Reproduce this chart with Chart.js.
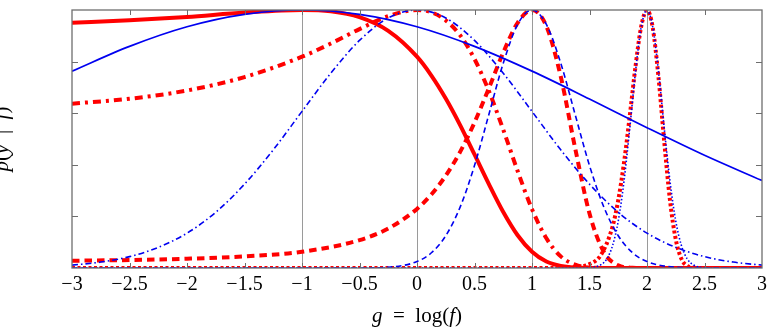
<!DOCTYPE html>
<html>
<head>
<meta charset="utf-8">
<script src="https://cdn.jsdelivr.net/npm/chart.js@4.4.0/dist/chart.umd.min.js"></script>
<style>
  html, body { margin: 0; padding: 0; background: #fff; overflow: hidden; }
  #wrap { position: absolute; left: -10px; top: 0; width: 782px; height: 332px; }
</style>
</head>
<body>
<div id="wrap"><canvas id="grafico"></canvas></div>
<script>
// ── Dados ──
// pico em g = -1
const xAzulSolida = [-3, -2.5, -2, -1.5, -1, -0.5, 0, 0.5, 1, 1.5, 2, 2.5, 3];
const yAzulSolida = [0.763, 0.859, 0.935, 0.983, 1, 0.983, 0.935, 0.859, 0.763, 0.655, 0.544, 0.437, 0.339];

const xVermSolida = [-3, -2.5, -2, -1.5, -1, -0.75, -0.5, -0.25, 0, 0.125, 0.25, 0.375, 0.5, 0.625, 0.75, 0.875, 1, 1.125, 1.25, 1.5, 1.75, 2, 3];
const yVermSolida = [0.951, 0.960, 0.973, 0.990, 1, 0.995, 0.972, 0.919, 0.819, 0.746, 0.657, 0.554, 0.440, 0.325, 0.217, 0.127, 0.063, 0.025, 0.008, 0.0002, 0, 0, 0];

// pico em g = 0
const xAzulTracoPonto = [-3, -2.75, -2.5, -2.25, -2, -1.75, -1.5, -1.25, -1, -0.75, -0.5, -0.25, 0, 0.25, 0.5, 0.75, 1, 1.25, 1.5, 1.75, 2, 2.25, 2.5, 2.75, 3];
const yAzulTracoPonto = [0.011, 0.023, 0.044, 0.080, 0.135, 0.216, 0.325, 0.458, 0.607, 0.755, 0.882, 0.969, 1, 0.969, 0.882, 0.755, 0.607, 0.458, 0.325, 0.216, 0.135, 0.080, 0.044, 0.023, 0.011];

const xVermTracoPonto = [-3, -2.5, -2, -1.5, -1, -0.75, -0.5, -0.25, 0, 0.125, 0.25, 0.375, 0.5, 0.625, 0.75, 0.875, 1, 1.125, 1.25, 1.375, 1.5, 1.75, 2, 3];
const yVermTracoPonto = [0.637, 0.656, 0.688, 0.740, 0.819, 0.870, 0.926, 0.976, 1, 0.991, 0.960, 0.902, 0.810, 0.686, 0.536, 0.376, 0.228, 0.115, 0.045, 0.013, 0.002, 0, 0, 0];

// pico em g = 1
const xAzulTracejada = [-3, -0.5, -0.25, 0, 0.125, 0.25, 0.375, 0.5, 0.625, 0.75, 0.875, 1, 1.125, 1.25, 1.375, 1.5, 1.625, 1.75, 1.875, 2, 2.25, 2.5, 3];
const yAzulTracejada = [0, 0.0002, 0.003, 0.025, 0.059, 0.125, 0.236, 0.397, 0.595, 0.794, 0.944, 1, 0.944, 0.794, 0.595, 0.397, 0.236, 0.125, 0.059, 0.025, 0.003, 0.0002, 0];

const xVermTracejada = [-3, -2.5, -2, -1.5, -1, -0.5, -0.25, 0, 0.125, 0.25, 0.375, 0.5, 0.625, 0.75, 0.875, 1, 1.125, 1.25, 1.375, 1.5, 1.625, 1.75, 1.875, 2, 3];
const yVermTracejada = [0.028, 0.031, 0.036, 0.045, 0.063, 0.108, 0.153, 0.229, 0.285, 0.358, 0.450, 0.564, 0.697, 0.835, 0.950, 1, 0.937, 0.742, 0.465, 0.211, 0.062, 0.010, 0.001, 0, 0];

// pico em g = 2
const xAzulPontilhada = [-3, 1.4, 1.5, 1.6, 1.65, 1.7, 1.75, 1.8, 1.85, 1.9, 1.95, 2, 2.05, 2.1, 2.15, 2.2, 2.25, 2.3, 2.35, 2.4, 2.5, 2.6, 3];
const yAzulPontilhada = [0, 0, 0.001, 0.013, 0.035, 0.086, 0.182, 0.336, 0.541, 0.761, 0.934, 1, 0.934, 0.761, 0.541, 0.336, 0.182, 0.086, 0.035, 0.013, 0.001, 0, 0];

const xVermPontilhada = [-3, 1, 1.3, 1.4, 1.5, 1.6, 1.7, 1.75, 1.8, 1.85, 1.9, 1.95, 2, 2.05, 2.1, 2.15, 2.2, 2.25, 2.3, 2.35, 2.4, 2.5, 3];
const yVermPontilhada = [0, 0, 0.001, 0.004, 0.015, 0.051, 0.160, 0.263, 0.408, 0.589, 0.781, 0.937, 1, 0.931, 0.739, 0.489, 0.262, 0.111, 0.035, 0.008, 0.001, 0, 0];

const linhasGrade = [-1, 0, 1, 2];

const VERMELHO = "#ff0000";
const AZUL     = "#0000f0";
const FONTE    = '"Liberation Serif", "Times New Roman", serif';

function pontos(xs, ys) {
    return xs.map((x, i) => ({ x, y: ys[i] }));
}

function serie(xs, ys, cor, largura, traco, ordem) {
    return {
        data: pontos(xs, ys),
        borderColor: cor,
        borderWidth: largura,
        borderDash: traco,
        order: ordem,
        pointRadius: 0,
        fill: false,
        cubicInterpolationMode: "monotone",
        clip: 0,
    };
}

// ── Texto com partes em itálico ──
function textoMisto(ctx, partes, cx, cy, rot) {
    ctx.save();
    ctx.translate(cx, cy);
    ctx.rotate(rot);
    ctx.textBaseline = "middle";
    ctx.textAlign = "left";
    ctx.fillStyle = "#000";
    let total = 0;
    partes.forEach(p => { ctx.font = p[1]; total += ctx.measureText(p[0]).width; });
    let pos = -total / 2;
    partes.forEach(p => {
        ctx.font = p[1];
        ctx.fillText(p[0], pos, 0);
        pos += ctx.measureText(p[0]).width;
    });
    ctx.restore();
}

// ── Moldura, marcas internas e títulos ──
const moldura = {
    id: "moldura",
    afterDraw(chart) {
        const { ctx, chartArea: a, scales: { x, y } } = chart;
        ctx.save();
        ctx.strokeStyle = "#6e6e6e";
        ctx.lineWidth = 1;
        ctx.beginPath();
        x.ticks.forEach(t => {
            if (t.value <= x.min || t.value >= x.max) return;
            const px = Math.round(x.getPixelForValue(t.value)) + 0.5;
            ctx.moveTo(px, a.bottom); ctx.lineTo(px, a.bottom - 5);
            ctx.moveTo(px, a.top);    ctx.lineTo(px, a.top + 5);
        });
        y.ticks.forEach(t => {
            if (t.value <= y.min || t.value >= y.max) return;
            const py = Math.round(y.getPixelForValue(t.value)) + 0.5;
            ctx.moveTo(a.left, py);  ctx.lineTo(a.left + 6, py);
            ctx.moveTo(a.right, py); ctx.lineTo(a.right - 6, py);
        });
        ctx.stroke();
        ctx.lineWidth = 1.3;
        ctx.strokeRect(a.left, a.top, a.right - a.left, a.bottom - a.top);
        ctx.restore();

        const N = "21px " + FONTE;
        const I = "italic 21px " + FONTE;
        textoMisto(ctx, [["g", I], ["\u2002=\u2002log(", N], ["f", I], [")", N]],
            (a.left + a.right) / 2, 316, 0);
        textoMisto(ctx, [["p", I], ["(", N], ["y", I], ["\u2002|\u2002", N], ["f", I], [")", N]],
            12, (a.top + a.bottom) / 2, -Math.PI / 2);
    }
};

// ── Gráfico ──
new Chart(document.getElementById("grafico"), {
    type: "line",
    data: {
        datasets: [
            serie(xAzulSolida,     yAzulSolida,     AZUL, 1.7, [],             1),
            serie(xAzulTracoPonto, yAzulTracoPonto, AZUL, 1.6, [6, 3, 1.5, 3], 1),
            serie(xAzulTracejada,  yAzulTracejada,  AZUL, 1.6, [5.5, 3.5],     1),
            serie(xAzulPontilhada, yAzulPontilhada, AZUL, 1.6, [1.5, 2],       1),
            serie(xVermSolida,     yVermSolida,     VERMELHO, 4, [],            2),
            serie(xVermTracoPonto, yVermTracoPonto, VERMELHO, 4, [8, 5, 3, 5],  2),
            serie(xVermTracejada,  yVermTracejada,  VERMELHO, 4, [7.5, 5],      2),
            serie(xVermPontilhada, yVermPontilhada, VERMELHO, 4, [3, 2.5],      2),
        ]
    },
    options: {
        responsive: true,
        maintainAspectRatio: false,
        animation: false,
        devicePixelRatio: 1,
        layout: { padding: { top: 10, right: 9, left: 0, bottom: 0 } },
        plugins: {
            legend: { display: false },
            tooltip: { enabled: false }
        },
        scales: {
            x: {
                type: "linear",
                min: -3,
                max: 3,
                ticks: {
                    stepSize: 0.5,
                    autoSkip: false,
                    maxRotation: 0,
                    padding: 5,
                    color: "#000",
                    font: { family: FONTE, size: 20 },
                    callback: v => {
                        const r = Math.round(v * 10) / 10;
                        return (r < 0 ? "\u2212" : "") + Math.abs(r);
                    }
                },
                grid: {
                    drawTicks: false,
                    lineWidth: 1,
                    color: ctx => linhasGrade.includes(ctx.tick && ctx.tick.value) ? "#9a9a9a" : "rgba(0,0,0,0)"
                },
                border: { display: false },
                afterFit: s => { s.height = 64; }
            },
            y: {
                min: 0,
                max: 1,
                ticks: { display: false, stepSize: 0.2 },
                grid: { display: false },
                border: { display: false },
                afterFit: s => { s.width = 82; }
            }
        }
    },
    plugins: [moldura]
});
</script>
</body>
</html>
